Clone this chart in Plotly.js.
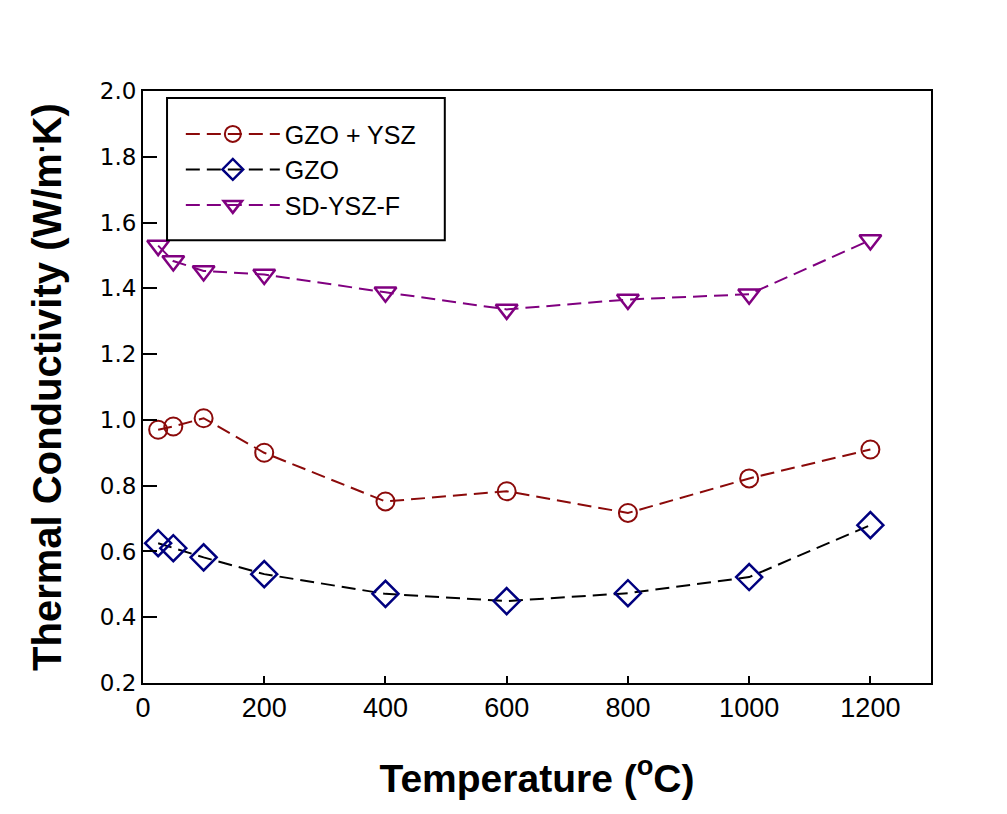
<!DOCTYPE html>
<html>
<head>
<meta charset="utf-8">
<script src="https://cdn.plot.ly/plotly-3.0.1.min.js"></script>
<style>html,body{margin:0;padding:0;background:#fff;}#chart{width:1007px;height:814px;}</style>
</head>
<body>
<div id="chart"></div>
<script>
const temperature = [25, 50, 100, 200, 400, 600, 800, 1000, 1200];
const gzoYsz = [0.97, 0.98, 1.005, 0.90, 0.752, 0.783, 0.717, 0.822, 0.91];
const gzo = [0.625, 0.61, 0.582, 0.531, 0.471, 0.449, 0.473, 0.522, 0.68];
const sdYszF = [1.53, 1.483, 1.453, 1.442, 1.388, 1.336, 1.366, 1.382, 1.547];
const seriesNames = ['GZO + YSZ', 'GZO', 'SD-YSZ-F'];
const xTicks = [0, 200, 400, 600, 800, 1000, 1200];

const traces = [
  {x: temperature, y: gzoYsz, name: seriesNames[0], mode: 'lines+markers',
   line: {color: '#8B0A0A', width: 2, dash: '14px,7px'},
   marker: {symbol: 'circle-open', size: 18, color: '#8B0A0A', line: {width: 2, color: '#8B0A0A'}}},
  {x: temperature, y: gzo, name: seriesNames[1], mode: 'lines+markers',
   line: {color: '#000000', width: 2, dash: '14px,7px'},
   marker: {symbol: 'diamond-open', size: 20, color: '#00007F', line: {width: 2.5, color: '#00007F'}}},
  {x: temperature, y: sdYszF, name: seriesNames[2], mode: 'lines+markers',
   line: {color: '#800080', width: 2, dash: '14px,7px'},
   marker: {symbol: 'triangle-down-open', size: 19, color: '#800080', line: {width: 2.5, color: '#800080'}}}
];

const layout = {
  width: 1007, height: 814,
  margin: {l: 143, r: 76, t: 91, b: 131},
  paper_bgcolor: '#fff', plot_bgcolor: '#fff',
  showlegend: true,
  legend: {x: 0.048, y: 0.966, xanchor: 'left', yanchor: 'top',
    bgcolor: 'rgba(0,0,0,0)', borderwidth: 0,
    font: {family: 'Liberation Sans, Arial, sans-serif', size: 25, color: '#000'},
    itemwidth: 94, tracegroupgap: 0},
  shapes: [{type: 'rect', xref: 'paper', yref: 'paper', layer: 'above',
    x0: 0.0305, x1: 0.383, y0: 0.748, y1: 0.988,
    line: {color: '#000', width: 2}, fillcolor: '#fff'}],
  xaxis: {
    range: [0, 1300], tickvals: xTicks,
    ticks: 'inside', ticklen: 7, tickwidth: 1.5, tickcolor: '#000',
    showline: true, linecolor: '#000', linewidth: 2, mirror: true,
    showgrid: false, zeroline: false,
    tickfont: {family: 'Liberation Sans, Arial, sans-serif', size: 27, color: '#000'},
    title: {text: 'Temperature (<sup>o</sup>C)', standoff: 42,
      font: {family: 'Liberation Sans, Arial, sans-serif', size: 39, color: '#000', weight: 'bold'}}
  },
  yaxis: {
    range: [0.2, 2.0], dtick: 0.2, tickformat: '.1f',
    ticks: 'inside', ticklen: 14, tickwidth: 1.5, tickcolor: '#000',
    showline: true, linecolor: '#000', linewidth: 2, mirror: true,
    showgrid: false, zeroline: false,
    tickfont: {family: 'DejaVu Sans, Verdana, sans-serif', size: 23, color: '#000'},
    title: {text: 'Thermal Conductivity (W/m<sup>.</sup>K)', standoff: 26,
      font: {family: 'Liberation Sans, Arial, sans-serif', size: 40, color: '#000', weight: 'bold'}}
  }
};

Plotly.newPlot('chart', traces, layout, {displayModeBar: false});
</script>
</body>
</html>
